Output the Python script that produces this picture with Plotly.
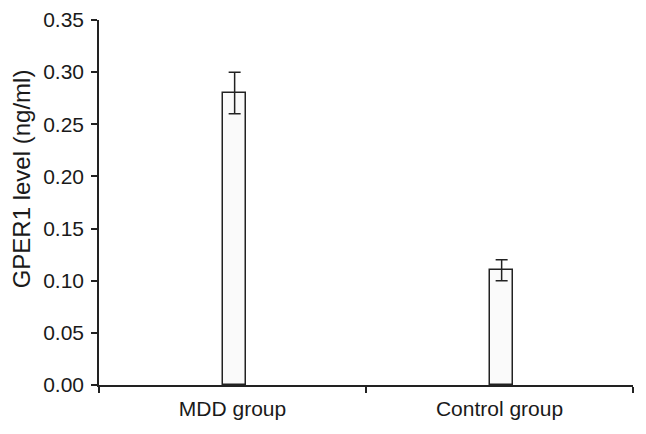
import plotly.graph_objects as go

categories = ["MDD group", "Control group"]
values = [0.28, 0.11]
errors = [0.02, 0.01]
y_title = "GPER1 level (ng/ml)"

bar_w = 0.087
fig = go.Figure()
fig.add_trace(go.Bar(
    x=categories, y=values,
    width=bar_w, offset=-bar_w / 2 + 0.008,
    marker=dict(color="#fafafa", line=dict(color="#222222", width=1.5)),
    error_y=dict(type="data", array=errors, visible=True, color="#222222", thickness=1.5, width=6),
))

fig.update_layout(
    width=638, height=426,
    margin=dict(l=91, r=13, t=12, b=49, autoexpand=False),
    plot_bgcolor="white", paper_bgcolor="white",
    font=dict(family="Liberation Sans, Arial, sans-serif", size=21, color="#1a1a1a"),
    showlegend=False,
    bargap=0,
)
fig.add_annotation(
    text=y_title, textangle=-90, showarrow=False,
    xref="paper", yref="paper", x=-0.145, y=0.565,
    xanchor="center", yanchor="middle",
    font=dict(size=24, color="#1a1a1a"),
)
fig.update_yaxes(
    range=[0, 0.35], dtick=0.05, tickformat=".2f",
    showline=True, linecolor="#222222", linewidth=1.5,
    ticks="outside", ticklen=6, tickcolor="#222222", tickwidth=1.5,
    showgrid=False, zeroline=False, ticklabelstandoff=3,
)
fig.update_xaxes(
    showline=True, linecolor="#222222", linewidth=1.5,
    ticks="outside", ticklen=6, tickcolor="#222222", tickwidth=1.5,
    tickson="boundaries", showgrid=False, ticklabelstandoff=4,
)

fig.write_html("out.html")
